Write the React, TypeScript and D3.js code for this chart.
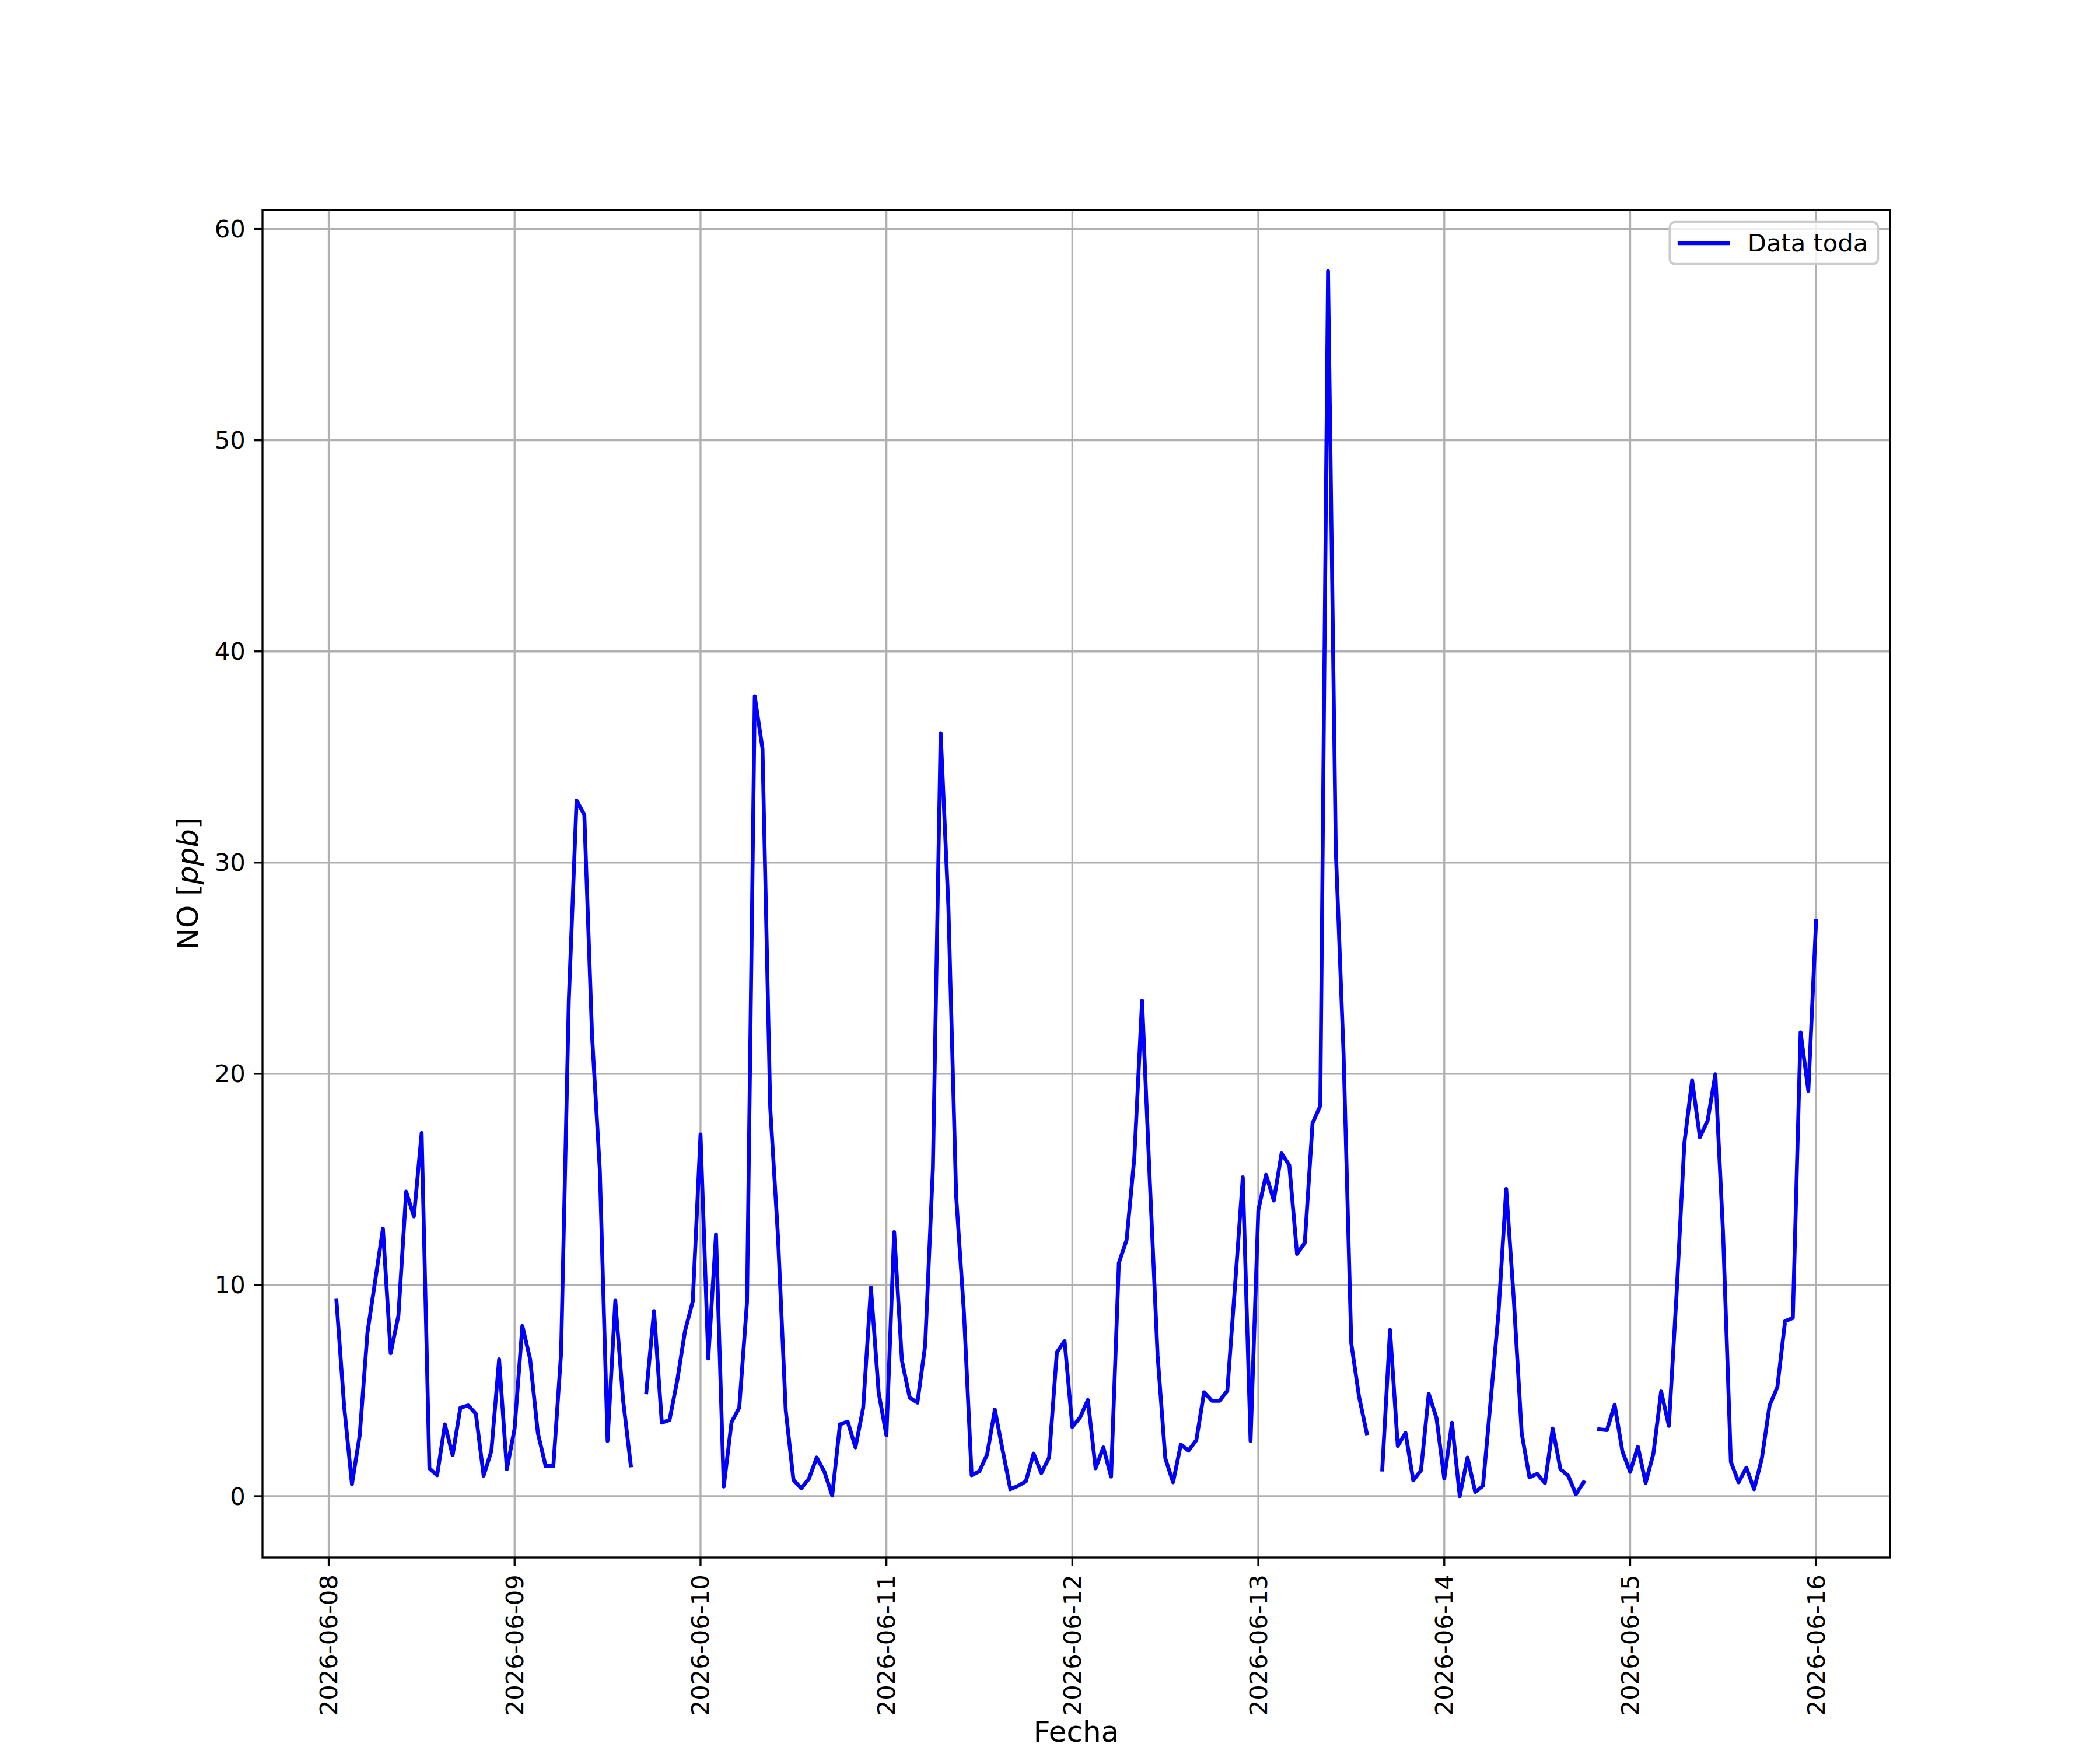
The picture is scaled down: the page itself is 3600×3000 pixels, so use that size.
import * as d3 from "d3";

// hourly NO readings, first one at 2026-06-08 01:00 UTC; NaN = missing hour
const START = Date.UTC(2026, 5, 8, 1);
const HOUR = 3600 * 1000;

const NO_PPB: number[] = [
  // 06-08 01:00 .. 06-09 00:00
  9.26, 4.23, 0.57, 2.87, 7.74, 10.2, 12.67, 6.77, 8.56, 14.42, 13.25, 17.2,
  1.32, 0.99, 3.4, 1.94, 4.19, 4.3, 3.9, 0.97, 2.14, 6.48, 1.28, 3.2,
  // 06-09
  8.06, 6.5, 3.0, 1.43, 1.43, 6.77, 23.5, 32.94, 32.27, 21.8, 15.45, 2.62,
  9.26, 4.56, 1.46, NaN, 4.92, 8.77, 3.48, 3.61, 5.49, 7.83, 9.23, 17.13,
  // 06-10
  6.52, 12.4, 0.46, 3.5, 4.19, 9.19, 37.87, 35.4, 18.39, 12.3, 4.06, 0.77,
  0.37, 0.83, 1.83, 1.15, 0.03, 3.4, 3.53, 2.31, 4.19, 9.88, 4.89, 2.88,
  // 06-11
  12.5, 6.42, 4.67, 4.43, 7.14, 15.54, 36.13, 27.9, 14.22, 8.73, 0.99, 1.18,
  1.98, 4.1, 2.18, 0.33, 0.49, 0.7, 2.02, 1.1, 1.83, 6.81, 7.34, 3.28,
  // 06-12
  3.73, 4.56, 1.32, 2.31, 0.93, 11.04, 12.13, 16.03, 23.46, 14.9, 6.68, 1.79,
  0.66, 2.45, 2.16, 2.65, 4.92, 4.52, 4.52, 4.99, 9.99, 15.1, 2.62, 13.54,
  // 06-13
  15.22, 14.0, 16.23, 15.67, 11.47, 12.0, 17.66, 18.49, 58.0, 30.6, 21.0, 7.24,
  4.72, 2.98, NaN, 1.26, 7.87, 2.38, 3.0, 0.75, 1.22, 4.85, 3.7, 0.83,
  // 06-14
  3.48, 0.0, 1.83, 0.2, 0.49, 4.56, 8.66, 14.55, 9.2, 2.98, 0.89, 1.06,
  0.62, 3.2, 1.28, 0.97, 0.09, 0.66, NaN, 3.17, 3.13, 4.33, 2.12, 1.15,
  // 06-15
  2.34, 0.63, 2.02, 4.96, 3.33, 9.62, 16.73, 19.7, 17.0, 17.78, 19.98, 12.4,
  1.63, 0.66, 1.35, 0.33, 1.79, 4.3, 5.16, 8.29, 8.44, 21.96, 19.2, 27.24,
];

const SERIES_LABEL = "Data toda";
const X_LABEL = "Fecha";

const W = 3600;
const H = 3000;
const PT = 300 / 72; // figure was saved at 300 dpi
const plot = { left: 450, right: 3240, top: 360, bottom: 2670 };
const FONT = "DejaVu Sans";
const tickFont = 10 * PT;
const labelFont = 12 * PT;

type Reading = { t: Date; v: number };

const readings: Reading[] = NO_PPB.map((v, i) => ({ t: new Date(START + i * HOUR), v }));

// matplotlib style 5% margins on both axes
const pad = ([a, b]: [number, number]): [number, number] => {
  const m = (b - a) * 0.05;
  return [a - m, b + m];
};

export default function App() {
  const tExt = d3.extent(readings, (d) => +d.t) as [number, number];
  const vExt = d3.extent(readings.filter((d) => !isNaN(d.v)), (d) => d.v) as [number, number];
  const [t0, t1] = pad(tExt);

  const x = d3
    .scaleUtc()
    .domain([new Date(t0), new Date(t1)])
    .range([plot.left, plot.right]);
  const y = d3.scaleLinear().domain(pad(vExt)).range([plot.bottom, plot.top]);

  const xTicks = d3.utcDay.range(d3.utcDay.ceil(new Date(t0)), new Date(t1));
  const yTicks = y.ticks(6);
  const fmt = d3.utcFormat("%Y-%m-%d");

  const line = d3
    .line<Reading>()
    .defined((d) => !isNaN(d.v))
    .x((d) => x(d.t))
    .y((d) => y(d.v));

  const tickLen = 3.5 * PT;
  const tickPad = 3.5 * PT;
  const thin = 0.8 * PT;
  const lineW = 6.6;

  // legend box, upper right
  const lgFont = tickFont;
  const lgPad = 0.4 * lgFont;
  const lgHandle = 2 * lgFont;
  const lgGap = 0.8 * lgFont;
  const lgTextW = 4.96 * lgFont;
  const lgW = 2 * lgPad + lgHandle + lgGap + lgTextW;
  const lgH = 72;
  const lgRight = plot.right - 0.5 * lgFont;
  const lgTop = plot.top + 0.5 * lgFont;
  const lgLeft = lgRight - lgW;
  const lgMid = lgTop + lgH / 2;

  return (
    <div style={{ position: "absolute", left: 0, top: 0 }}>
      <svg width={W} height={H} viewBox={`0 0 ${W} ${H}`} style={{ display: "block", background: "#fff" }}>
        <rect x={0} y={0} width={W} height={H} fill="#fff" />

        {/* grid */}
        <g stroke="#b0b0b0" strokeWidth={thin}>
          {xTicks.map((d) => (
            <line key={+d} x1={x(d)} x2={x(d)} y1={plot.top} y2={plot.bottom} />
          ))}
          {yTicks.map((v) => (
            <line key={v} x1={plot.left} x2={plot.right} y1={y(v)} y2={y(v)} />
          ))}
        </g>

        <path
          d={line(readings) ?? ""}
          fill="none"
          stroke="#0000ff"
          strokeWidth={lineW}
          strokeLinejoin="round"
          strokeLinecap="square"
        />

        {/* spines */}
        <rect
          x={plot.left}
          y={plot.top}
          width={plot.right - plot.left}
          height={plot.bottom - plot.top}
          fill="none"
          stroke="#000"
          strokeWidth={thin}
        />

        {/* x axis */}
        <g fontFamily={FONT} fontSize={tickFont} fill="#000">
          {xTicks.map((d) => (
            <g key={+d}>
              <line x1={x(d)} x2={x(d)} y1={plot.bottom} y2={plot.bottom + tickLen} stroke="#000" strokeWidth={thin} />
              <text
                transform={`translate(${x(d)},${plot.bottom + tickLen + tickPad}) rotate(-90)`}
                textAnchor="end"
                dominantBaseline="central"
              >
                {fmt(d)}
              </text>
            </g>
          ))}
        </g>

        {/* y axis */}
        <g fontFamily={FONT} fontSize={tickFont} fill="#000">
          {yTicks.map((v) => (
            <g key={v}>
              <line x1={plot.left - tickLen} x2={plot.left} y1={y(v)} y2={y(v)} stroke="#000" strokeWidth={thin} />
              <text x={plot.left - tickLen - tickPad} y={y(v)} textAnchor="end" dominantBaseline="central">
                {v}
              </text>
            </g>
          ))}
        </g>

        <text
          x={(plot.left + plot.right) / 2}
          y={2986}
          textAnchor="middle"
          fontFamily={FONT}
          fontSize={labelFont}
        >
          {X_LABEL}
        </text>
        <text
          transform={`translate(339,${(plot.top + plot.bottom) / 2}) rotate(-90)`}
          textAnchor="middle"
          fontFamily={FONT}
          fontSize={labelFont}
        >
          NO [<tspan fontStyle="italic">ppb</tspan>]
        </text>

        {/* legend */}
        <rect
          x={lgLeft}
          y={lgTop}
          width={lgW}
          height={lgH}
          rx={0.2 * lgFont}
          fill="#fff"
          fillOpacity={0.8}
          stroke="#cccccc"
          strokeWidth={1 * PT}
        />
        <line
          x1={lgLeft + lgPad}
          x2={lgLeft + lgPad + lgHandle}
          y1={lgMid}
          y2={lgMid}
          stroke="#0000ff"
          strokeWidth={lineW}
          strokeLinecap="square"
        />
        <text
          x={lgLeft + lgPad + lgHandle + lgGap}
          y={lgMid}
          dominantBaseline="central"
          fontFamily={FONT}
          fontSize={lgFont}
        >
          {SERIES_LABEL}
        </text>
      </svg>
    </div>
  );
}
